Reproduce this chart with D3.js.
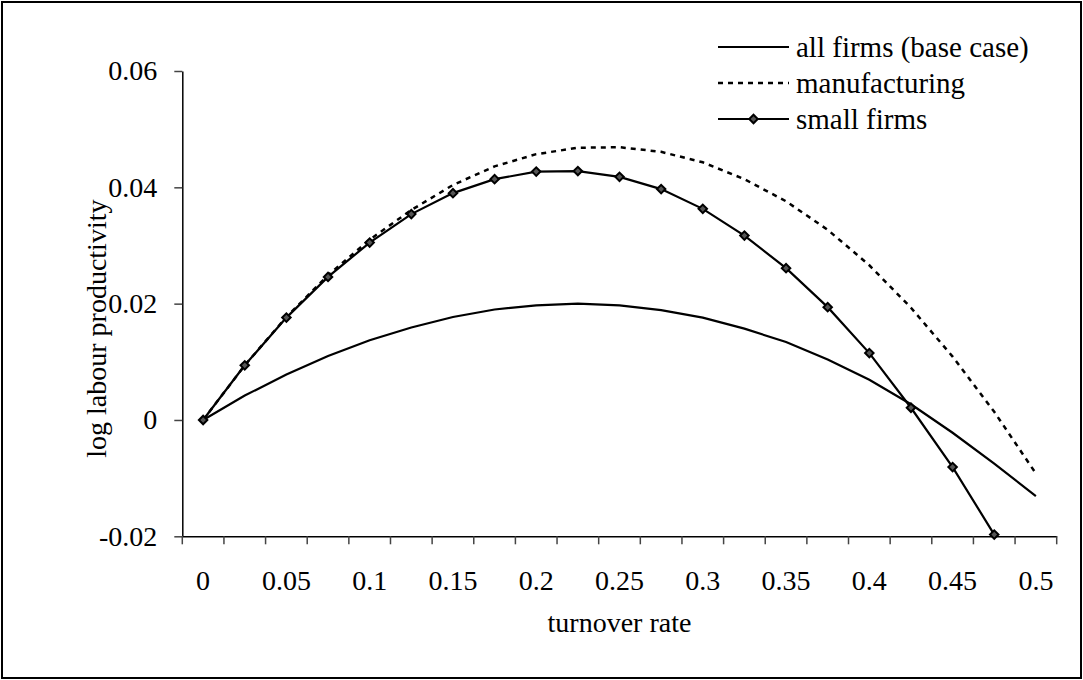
<!DOCTYPE html>
<html lang="en">
<head>
    <meta charset="UTF-8">
    <title>log labour productivity</title>
    <script src="https://cdn.jsdelivr.net/npm/d3@7/dist/d3.min.js"></script>
    <style>
        body { margin: 0; background: #fff; }
        text { font-family: "Liberation Serif", "Times New Roman", serif; fill: #000; }
    </style>
</head>
<body>
<script>
    var width = 1083
    var height = 680

    // turnover rate categories (every 0.025)
    var categories = ["0", "0.025", "0.05", "0.075", "0.1", "0.125", "0.15", "0.175", "0.2", "0.225",
        "0.25", "0.275", "0.3", "0.325", "0.35", "0.375", "0.4", "0.425", "0.45", "0.475", "0.5"]
    var xTickLabels = ["0", "0.05", "0.1", "0.15", "0.2", "0.25", "0.3", "0.35", "0.4", "0.45", "0.5"]
    var yTickValues = [-0.02, 0, 0.02, 0.04, 0.06]
    var yTickLabels = ["-0.02", "0", "0.02", "0.04", "0.06"]

    var allFirms = [0, 0.0042, 0.0078, 0.0110, 0.0137, 0.0159, 0.0177, 0.0190, 0.0197, 0.0200, 0.0197,
        0.0189, 0.0176, 0.0157, 0.0134, 0.0104, 0.0069, 0.0027, -0.0022, -0.0075, -0.0131]
    var manufacturing = [0, 0.0094, 0.0177, 0.0249, 0.0310, 0.0361, 0.0404, 0.0436, 0.0457, 0.0468, 0.0469,
        0.0461, 0.0443, 0.0414, 0.0376, 0.0327, 0.0266, 0.0193, 0.0109, 0.0014, -0.0092]
    var smallFirms = [0, 0.0094, 0.0176, 0.0246, 0.0305, 0.0354, 0.0390, 0.0414, 0.0427, 0.0428, 0.0418,
        0.0397, 0.0363, 0.0317, 0.0261, 0.0194, 0.0115, 0.0021, -0.0081, -0.0197]

    var seriesNames = ["all firms (base case)", "manufacturing", "small firms"]

    var svg = d3.select('body')
        .append('svg')
        .attr('width', width)
        .attr('height', height)

    // chart border
    svg.append('rect')
        .attr('x', 2).attr('y', 2)
        .attr('width', width - 4).attr('height', height - 4)
        .attr('fill', 'none')
        .attr('stroke', '#000')
        .attr('stroke-width', 2)

    var plotLeft = 182.3, plotRight = 1056.7, plotTop = 71, plotBottom = 536.3

    var x = d3.scaleBand()
        .domain(categories)
        .range([plotLeft, plotRight])
        .padding(0)

    var y = d3.scaleLinear()
        .domain([-0.02, 0.06])
        .range([plotBottom, plotTop])

    function cx(i) {
        return x(categories[i]) + x.bandwidth() / 2
    }

    // y axis
    var yAxis = svg.append('g')
        .attr('transform', 'translate(' + plotLeft + ',0)')
        .call(d3.axisLeft(y)
            .tickValues(yTickValues)
            .tickFormat(function (d, i) { return yTickLabels[i] })
            .tickSize(8)
            .tickPadding(17)
            .tickSizeOuter(0))
    yAxis.select('.domain').attr('stroke', '#000').attr('stroke-width', 1.5)
    yAxis.selectAll('.tick line').attr('stroke', '#444').attr('stroke-width', 1.5)
    yAxis.selectAll('.tick text')
        .attr('font-size', 28)
        .attr('font-family', '"Liberation Serif", serif')

    // x axis: ticks between categories, labels on every other category
    var xAxis = svg.append('g')
        .attr('transform', 'translate(0,' + plotBottom + ')')
        .call(d3.axisBottom(x)
            .tickValues(categories.filter(function (d, i) { return i % 2 === 0 }))
            .tickFormat(function (d, i) { return xTickLabels[i] })
            .tickSize(0)
            .tickPadding(34)
            .tickSizeOuter(0))
    xAxis.select('.domain').attr('stroke', '#000').attr('stroke-width', 1.5)
    xAxis.selectAll('.tick text')
        .attr('font-size', 28)
        .attr('font-family', '"Liberation Serif", serif')

    var edges = categories.map(function (d) { return x(d) }).concat([plotRight])
    svg.append('g').selectAll('line')
        .data(edges)
        .enter()
        .append('line')
        .attr('x1', function (d) { return d })
        .attr('x2', function (d) { return d })
        .attr('y1', plotBottom)
        .attr('y2', plotBottom + 8)
        .attr('stroke', '#444')
        .attr('stroke-width', 1.5)

    // axis titles
    svg.append('text')
        .attr('x', (plotLeft + plotRight) / 2)
        .attr('y', 632)
        .attr('text-anchor', 'middle')
        .attr('font-size', 28)
        .text('turnover rate')

    svg.append('text')
        .attr('transform', 'translate(106,' + ((plotTop + plotBottom) / 2 + 25) + ') rotate(-90)')
        .attr('text-anchor', 'middle')
        .attr('font-size', 28)
        .text('log labour productivity')

    var line = d3.line()
        .x(function (d, i) { return cx(i) })
        .y(function (d) { return y(d) })

    svg.append('path')
        .datum(allFirms)
        .attr('d', line)
        .attr('fill', 'none')
        .attr('stroke', '#000')
        .attr('stroke-width', 2.2)

    svg.append('path')
        .datum(manufacturing)
        .attr('d', line)
        .attr('fill', 'none')
        .attr('stroke', '#000')
        .attr('stroke-width', 2.5)
        .attr('stroke-dasharray', '5,5')

    svg.append('path')
        .datum(smallFirms)
        .attr('d', line)
        .attr('fill', 'none')
        .attr('stroke', '#000')
        .attr('stroke-width', 2.2)

    var diamond = d3.symbol().type(d3.symbolSquare).size(36)

    svg.append('g').selectAll('path')
        .data(smallFirms)
        .enter()
        .append('path')
        .attr('d', diamond)
        .attr('transform', function (d, i) { return 'translate(' + cx(i) + ',' + y(d) + ') rotate(45)' })
        .attr('fill', '#555')
        .attr('stroke', '#000')
        .attr('stroke-width', 2)

    // legend
    var legend = svg.append('g')
        .selectAll('g')
        .data(seriesNames)
        .enter()
        .append('g')
        .attr('transform', function (d, i) { return 'translate(718,' + (47 + i * 36) + ')' })

    legend.append('line')
        .attr('x1', 0).attr('x2', 71)
        .attr('y1', 0).attr('y2', 0)
        .attr('stroke', '#000')
        .attr('stroke-width', function (d, i) { return i === 1 ? 2.5 : 2.2 })
        .attr('stroke-dasharray', function (d, i) { return i === 1 ? '5,5' : null })

    legend.filter(function (d, i) { return i === 2 })
        .append('path')
        .attr('d', diamond)
        .attr('transform', 'translate(35.5,0) rotate(45)')
        .attr('fill', '#555')
        .attr('stroke', '#000')
        .attr('stroke-width', 2)

    legend.append('text')
        .attr('x', 78)
        .attr('y', 0)
        .attr('dy', '0.33em')
        .attr('font-size', 29)
        .text(function (d) { return d })
</script>
</body>
</html>
